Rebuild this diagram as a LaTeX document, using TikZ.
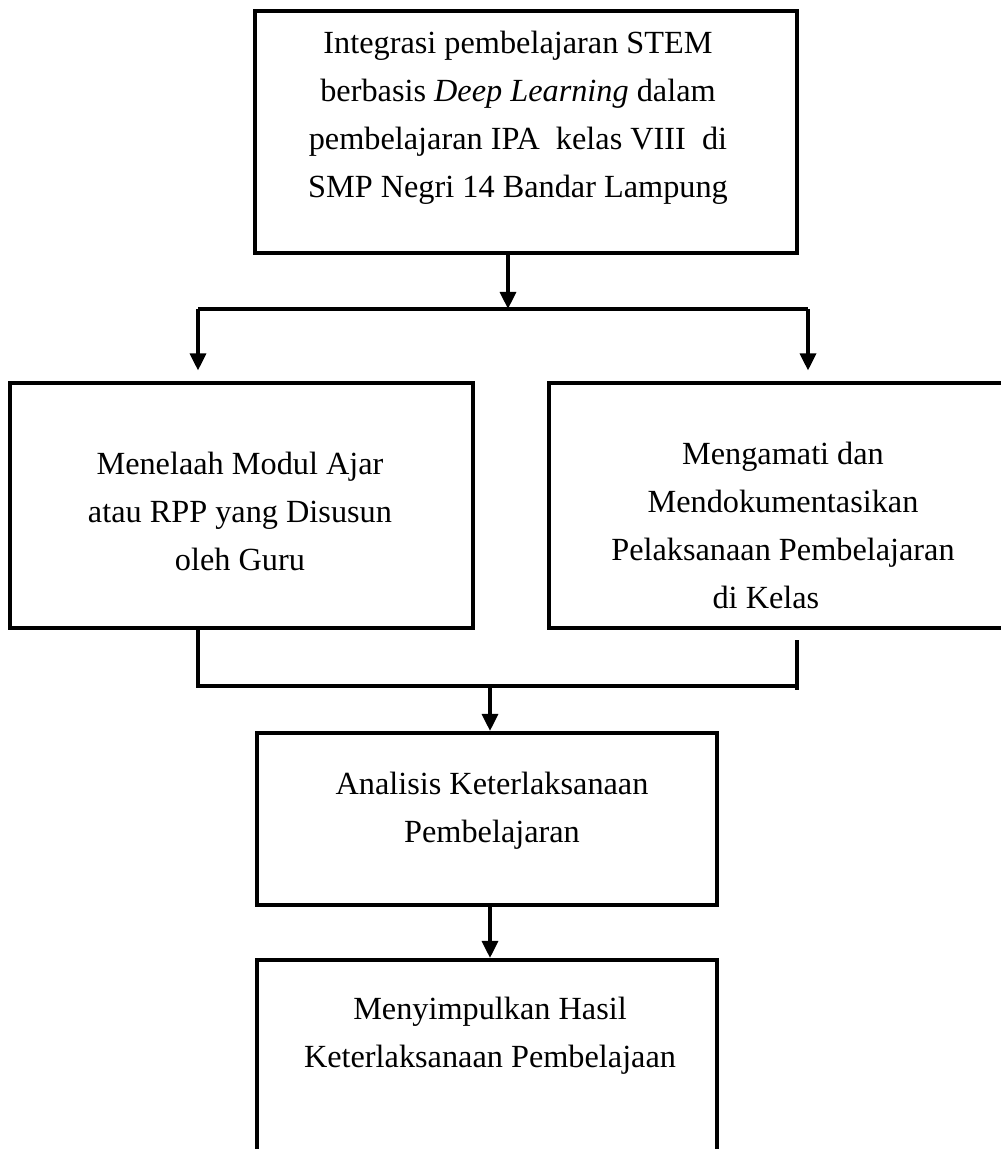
\documentclass[tikz,border=0pt]{standalone}
\usepackage{fontspec}
\setmainfont{Liberation Serif}
\usetikzlibrary{arrows.meta}
\def\u{0.381pt}
\tikzset{
  kotak/.style={draw, line width=1.5pt, inner sep=0pt},
  teks/.style={align=center, inner sep=0pt, anchor=north, font=\fontsize{12.3}{18.2}\selectfont},
  garis/.style={line width=1.5pt},
}
\begin{document}
\begin{tikzpicture}[x=\u,y=-\u,>={Triangle[length=6.5pt,width=6pt]}]
   \clip (0,0) rectangle (1001,1149);
   % kotak
   \node[kotak, minimum width=542*\u, minimum height=242*\u] (atas) at (526,132) {};
   \node[kotak, minimum width=463*\u, minimum height=245*\u] (kiri) at (241.5,505.5) {};
   \node[kotak, minimum width=491*\u, minimum height=245*\u] (kanan) at (794.5,505.5) {};
   \node[kotak, minimum width=460*\u, minimum height=172*\u] (analisis) at (487,819) {};
   \node[kotak, minimum width=460*\u, minimum height=240*\u] (simpul) at (487,1080) {};
   % teks
   \node[teks] (tAtas) at (518,31) {Integrasi pembelajaran STEM\\berbasis \textit{Deep Learning} dalam\\pembelajaran IPA~ kelas VIII~ di\\SMP Negri 14 Bandar Lampung};
   \node[teks] (tKiri) at (240,452) {Menelaah Modul Ajar\\atau RPP yang Disusun\\oleh Guru};
   \node[teks] (tKanan) at (783,442) {Mengamati dan\\Mendokumentasikan\\Pelaksanaan Pembelajaran\\di Kelas\hspace*{13pt}};
   \node[teks] (tAnalisis) at (492,772) {Analisis Keterlaksanaan\\Pembelajaran};
   \node[teks] (tSimpul) at (490,997) {Menyimpulkan Hasil\\Keterlaksanaan Pembelajaan};
   % garis atas
   \coordinate (cabang) at (508,309);
   \coordinate (cL) at (198,309);
   \coordinate (cR) at (808,309);
   \draw[garis,->] (atas.south -| cabang) -- (cabang);
   \draw[garis] (cL) -- (cR);
   \draw[garis,->] (cL) -- ([yshift=4pt]cL |- kiri.north);
   \draw[garis,->] (cR) -- ([yshift=4pt]cR |- kanan.north);
   % garis bawah
   \coordinate (gL) at (198,686);
   \coordinate (gR) at (797,686);
   \coordinate (gM) at (490,686);
   \draw[garis] (gL |- kiri.south) -- (gL) -- (gR);
   \draw[garis] (797,640) -- (797,690);
   \draw[garis,->] (gM) -- (gM |- analisis.north);
   \draw[garis,->] (analisis.south -| gM) -- (gM |- simpul.north);
\end{tikzpicture}
\end{document}
